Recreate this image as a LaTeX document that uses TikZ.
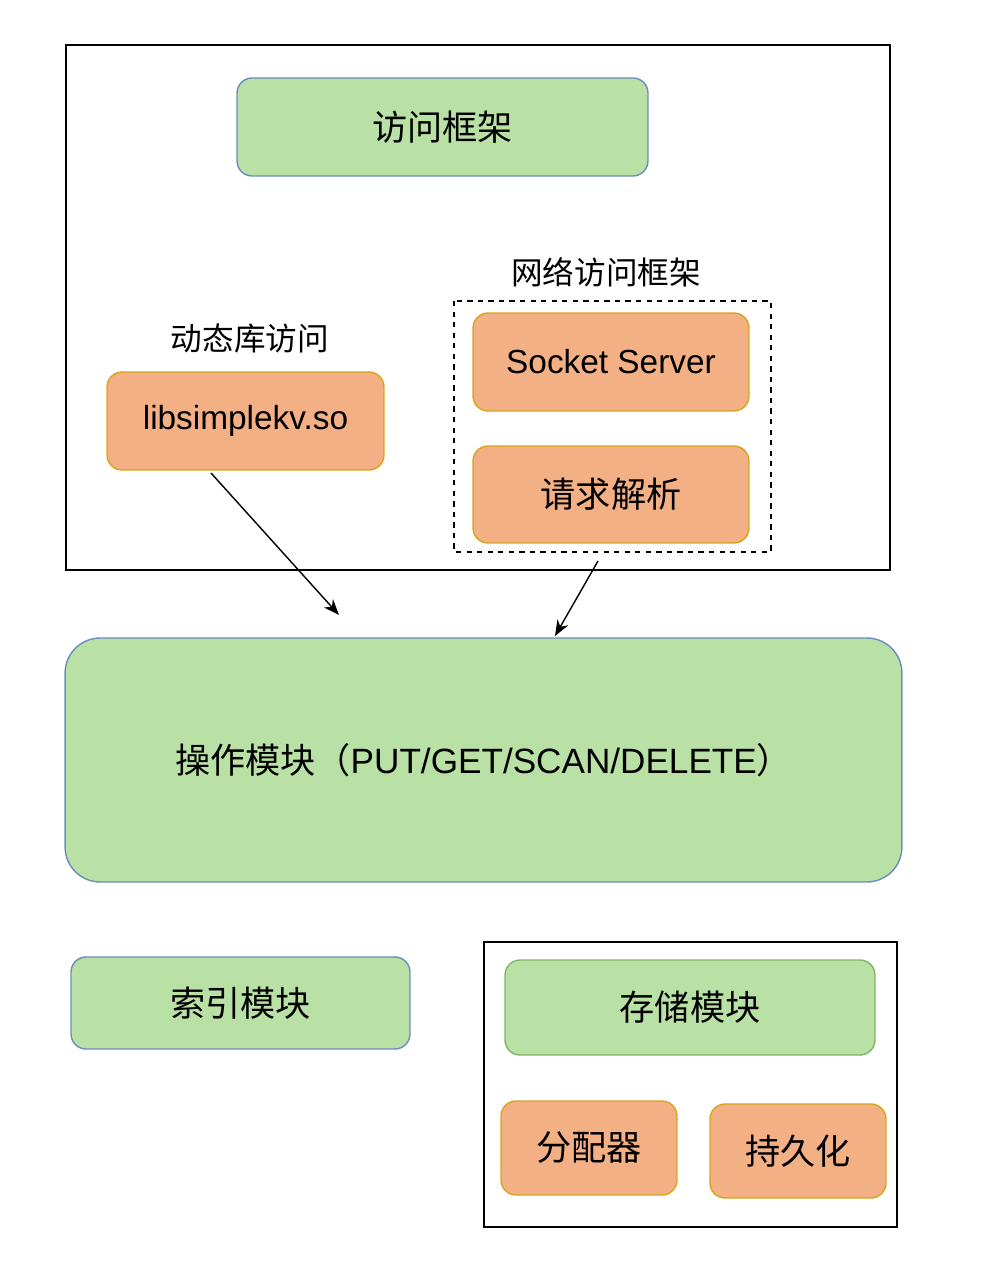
\documentclass[tikz,border=0pt]{standalone}
\usepackage{fontspec}
\setmainfont{Liberation Sans}
\newfontfamily\cjk{Noto Sans CJK SC}
\usetikzlibrary{arrows.meta}

\definecolor{okgreen}{HTML}{B9E0A5}
\definecolor{okblue}{HTML}{6C8EBF}
\definecolor{darkgreen}{HTML}{82B366}
\definecolor{peach}{HTML}{F2B084}
\definecolor{amber}{HTML}{D9A41E}

\tikzset{
  greenbox/.style={draw=okblue, fill=okgreen, line width=0.8pt, rounded corners=0.3cm},
  peachbox/.style={draw=amber, fill=peach, line width=0.8pt, rounded corners=0.3cm},
  big/.style={font=\fontsize{19pt}{23pt}\selectfont},
  bigcjk/.style={font=\cjk\fontsize{20pt}{24pt}\selectfont},
  grouptitle/.style={font=\cjk\fontsize{18pt}{22pt}\selectfont},
  flow/.style={-{Stealth[length=9pt, width=7pt]}, line width=0.8pt}
}

\begin{document}
\begin{tikzpicture}[x=0.02cm, y=-0.02cm]
            \useasboundingbox (0,0) rectangle (980,1283);

            % upper frame
            \draw[line width=1pt] (66,45) rectangle (890,570);
            \node[greenbox, bigcjk, minimum width=8.22cm, minimum height=1.96cm] (access) at (442.5,127) {访问框架};

            \node[grouptitle] (libtitle) at (250,338) {动态库访问};
            \node[peachbox, big, minimum width=5.54cm, minimum height=1.96cm] (lib) at (245.5,421) {libsimplekv.so};

            % network part
            \node[grouptitle] (nettitle) at (606,272) {网络访问框架};
            \draw[dashed, line width=0.8pt] (454,301) rectangle (771,552);
            \node[peachbox, big, minimum width=5.52cm, minimum height=1.96cm] (socket) at (611,362) {Socket Server};
            \node[peachbox, bigcjk, minimum width=5.52cm, minimum height=1.94cm] (parse) at (611,494.5) {请求解析};

            % operation module
            \node[greenbox, font=\fontsize{20pt}{24pt}\selectfont, rounded corners=0.7cm, minimum width=16.74cm, minimum height=4.88cm] (op) at (483.5,760) {{\cjk 操作模块（}PUT/GET/SCAN/DELETE{\cjk ）}};

            \coordinate (libout) at (211,473);
            \coordinate (libin) at (339,615);
            \coordinate (netout) at (598,561);
            \coordinate (netin) at (555,636);
            \draw[flow] (libout) -- (libin);
            \draw[flow] (netout) -- (netin);

            % lower part
            \node[greenbox, bigcjk, minimum width=6.78cm, minimum height=1.84cm] (index) at (240.5,1003) {索引模块};

            \draw[line width=1pt] (484,942) rectangle (897,1227);
            \node[greenbox, draw=darkgreen, bigcjk, minimum width=7.4cm, minimum height=1.9cm] (store) at (690,1007.5) {存储模块};
            \node[peachbox, bigcjk, minimum width=3.52cm, minimum height=1.88cm] (alloc) at (589,1148) {分配器};
            \node[peachbox, bigcjk, minimum width=3.52cm, minimum height=1.88cm] (persist) at (798,1151) {持久化};
        \end{tikzpicture}
\end{document}
